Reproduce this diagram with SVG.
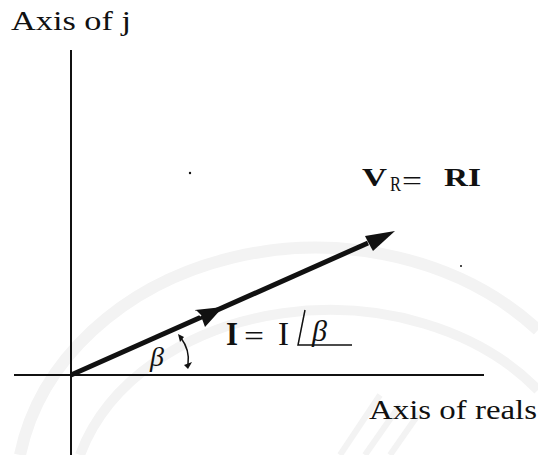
<svg xmlns="http://www.w3.org/2000/svg" width="538" height="455" viewBox="0 0 538 455">
<style>
.t{font-family:"Liberation Serif","DejaVu Serif",serif;fill:#111}
.ax{stroke:#111;stroke-width:2;fill:none}
.wm{stroke:#f3f3f3;fill:none}
</style>
<rect width="538" height="455" fill="#fff"/>
<g id="watermark">
<path class="wm" stroke-width="12" d="M20,455 A300,250 0 0 1 538,330"/>
<path class="wm" stroke-width="10" d="M80,455 A260,200 0 0 1 538,390"/>
<path class="wm" stroke-width="6" d="M340,455 L380,395 M365,455 L400,405 M390,455 L420,412"/>
</g>
<g id="axes">
<line class="ax" x1="14" y1="375" x2="484" y2="375"/>
<line class="ax" x1="71" y1="50" x2="71" y2="455"/>
</g>
<g id="connectors">
<line x1="71" y1="375" x2="368" y2="243" stroke="#111" stroke-width="5"/>
<path d="M395,231 L365,236 L368,242 L373,251 Z" fill="#111"/>
<path d="M223,307 L195,310 L201,316 L205,327 Z" fill="#111"/>
<path d="M196,311 L201,316" stroke="#fff" stroke-width="1.5"/>
<path d="M181,338 Q190,350 188,364" stroke="#111" stroke-width="1.5" fill="none"/>
<path d="M178,334 L184,337 L180,342 Z" fill="#111"/>
<path d="M184,365 L188,369 L192,362 Z" fill="#111"/>
</g>
<g id="label-j"><text class="t" x="11" y="30" font-size="27" textLength="120" lengthAdjust="spacingAndGlyphs">Axis  of j</text></g>
<g id="label-reals"><text class="t" x="369" y="419" font-size="27" textLength="168" lengthAdjust="spacingAndGlyphs">Axis  of  reals</text></g>
<g id="label-VR">
<text class="t" x="362" y="186" font-size="25" font-weight="bold" textLength="25" lengthAdjust="spacingAndGlyphs">V</text>
<text class="t" x="390" y="191" font-size="20" textLength="11" lengthAdjust="spacingAndGlyphs">R</text>
<text class="t" x="402" y="190" font-size="28" textLength="20" lengthAdjust="spacingAndGlyphs">=</text>
<text class="t" x="444" y="186" font-size="25" font-weight="bold" textLength="37" lengthAdjust="spacingAndGlyphs">RI</text>
</g>
<g id="label-I">
<text class="t" x="226" y="345" font-size="33" font-weight="bold" textLength="12" lengthAdjust="spacingAndGlyphs">I</text>
<text class="t" x="244" y="346" font-size="30" textLength="20" lengthAdjust="spacingAndGlyphs">=</text>
<text class="t" x="278" y="345" font-size="33" textLength="11" lengthAdjust="spacingAndGlyphs">I</text>
<path d="M305,310 L298,345 L352,345" stroke="#111" stroke-width="1.5" fill="none"/>
<text class="t" x="312" y="341" font-size="30" font-style="italic">β</text>
</g>
<g id="label-beta"><text class="t" x="150" y="366" font-size="28" font-style="italic">β</text></g>
<g id="specks">
<circle cx="190" cy="173" r="1.2" fill="#111"/>
<circle cx="461" cy="266" r="1" fill="#111"/>
</g>
</svg>
